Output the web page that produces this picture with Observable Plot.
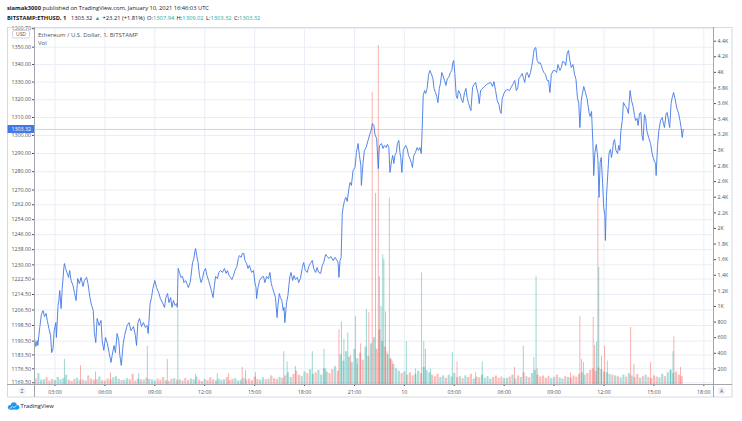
<!DOCTYPE html>
<html><head><meta charset="utf-8">
<script src="https://cdn.jsdelivr.net/npm/d3@7"></script>
<script src="https://cdn.jsdelivr.net/npm/@observablehq/plot@0.6"></script>
<style>
body{margin:0;background:#fff;font-family:"Open Sans",sans-serif;}
#wrap{position:relative;width:742px;height:421px;overflow:hidden;background:#fff;}
.hdr{position:absolute;left:7px;font-size:5.75px;line-height:1;color:#131722;white-space:nowrap;}
.hdr b{font-weight:700;}
.hdr .g{margin-left:2.3px;}
.up{color:#26a69a;}
.leg{position:absolute;left:38px;font-size:6px;line-height:1;color:#4c525e;white-space:nowrap;}
</style></head><body><div id="wrap"></div><script>
// ---------- data ----------
// minutes since 2021-01-09 00:00 UTC, 1-min ETHUSD closes
const priceMinutes = [
106,111,116,118,125,131,137,142,148,152,158,164,168,173,177,183,185,191,194,197,202,206,212,214,218,223,229,233,238,245,250,256,262,268,274,281,286,294,299,306,312,318,322,327,332,339,346,350,356,362,369,375,382,386,393,398,404,410,414,419,426,431,440,447,454,463,470,474,479,485,492,499,506,512,516,523,
528,533,540,546,554,560,569,575,579,586,591,597,602,607,613,619,621,624,629,634,640,645,651,657,661,667,670,676,681,685,687,691,696,701,707,712,717,723,728,734,739,744,750,755,759,766,771,777,784,791,797,802,808,813,818,824,829,836,841,845,851,856,861,865,871,876,881,889,896,901,905,907,912,918,925,932,
937,943,950,955,960,964,970,975,981,984,989,993,998,1003,1006,1009,1015,1020,1027,1031,1037,1042,1047,1054,1059,1065,1072,1077,1083,1090,1095,1101,1108,1113,1120,1125,1131,1138,1144,1149,1156,1162,1168,1175,1183,1190,1197,1201,1204,1208,1212,1216,1219,1224,1229,1234,1240,1244,1249,1255,1262,1267,1273,1278,1283,1285,1291,1296,1302,1309,1315,1320,1325,1330,1334,1340,1346,
1350,1358,1363,1368,1374,1379,1384,1388,1394,1398,1402,1406,1411,1415,1420,1424,1427,1431,1436,1441,1445,1450,1455,1460,1466,1469,1474,1480,1486,1491,1496,1501,1504,1508,1513,1517,1522,1527,1532,1537,1543,1547,1552,1557,1561,1566,1570,1575,1579,1585,1590,1595,1600,1606,1611,1615,1618,1622,1627,1631,1635,1641,1646,1651,1657,1662,1667,1672,1677,1680,1686,1691,1697,1701,1706,1710,1715,1722,1729,1736,1743,1751,
1758,1763,1769,1775,1781,1785,1789,1793,1799,1805,1812,1819,1825,1833,1838,1844,1849,1853,1859,1865,1870,1874,1879,1883,1889,1895,1899,1903,1906,1909,1914,1919,1925,1929,1934,1938,1943,1949,1955,1960,1965,1970,1977,1983,1989,1994,2001,2006,2011,2018,2022,2027,2032,2037,2042,2048,2054,2059,2064,2069,2073,2078,2081,2087,2093,2099,2106,2110,2115,2120,2123,2127,2132,2138,2142,2146,2150,2155,2159,2163,2165,2169,2174,2178,2183,2187,2191,2194,2198,2203,2209,2213,2217,2221,2226,2230,2238,2243,2248,2254,2259,2265,2270,2274,2279,2283,2288,2293,2297,2301,2306,2310,2315,2322,2328,2333,2337,2342,2346,2348,2353,2358,2364,2370,2375,2378,2384,2388,2393,2397,2402,2406,2411,2416,2422,2429,2434,2438,2442,2446];
const priceValues = [
1191.9,1187.8,1190.8,1188.3,1197.5,1204.2,1206.2,1203.1,1204.7,1201.1,1197.0,1193.4,1184.7,1186.8,1195.9,1200.0,1192.4,1208.8,1211.4,1216.6,1207.2,1217.6,1228.6,1230.7,1228.1,1226.0,1223.4,1227.0,1221.8,1219.2,1215.5,1211.4,1222.8,1220.2,1223.4,1218.7,1221.8,1223.4,1220.2,1212.9,1208.8,1206.2,1194.9,1189.8,1202.1,1198.5,1201.1,1190.8,1185.8,1192.4,1189.3,1184.7,1179.7,1183.2,1188.3,1184.7,1194.4,1190.8,1183.2,1178.2,1189.3,1193.4,1198.5,1200.0,1195.9,1198.0,1193.4,1188.3,1200.0,1202.1,1198.0,1200.0,1197.5,1198.5,1194.4,1209.8,
1212.9,1217.6,1221.8,1218.1,1215.5,1212.4,1209.8,1207.8,1212.4,1215.0,1210.3,1212.9,1207.8,1211.4,1208.8,1209.8,1207.8,1228.1,1226.0,1223.4,1223.9,1220.7,1221.8,1219.7,1218.1,1220.7,1223.4,1231.2,1233.3,1237.6,1238.6,1234.9,1231.2,1224.4,1220.7,1222.8,1226.5,1228.1,1224.4,1221.8,1219.2,1216.6,1212.9,1219.2,1223.9,1222.8,1226.0,1227.0,1226.0,1228.1,1225.5,1227.0,1224.4,1223.4,1222.3,1224.4,1227.0,1229.1,1233.3,1234.9,1233.9,1236.0,1236.0,1232.3,1230.7,1228.1,1229.7,1226.0,1227.0,1220.7,1218.1,1212.4,1218.1,1221.8,1223.4,1223.9,
1220.7,1223.9,1222.8,1226.0,1220.2,1218.1,1215.5,1212.9,1202.6,1208.8,1215.0,1212.9,1211.4,1206.2,1207.8,1200.0,1210.3,1214.0,1223.9,1226.0,1221.8,1224.4,1222.3,1223.4,1220.7,1222.8,1228.6,1231.2,1227.0,1226.0,1229.1,1230.7,1232.3,1228.1,1226.0,1228.6,1226.0,1225.5,1229.7,1231.2,1235.5,1234.4,1233.3,1234.4,1232.3,1233.9,1232.3,1231.2,1223.4,1232.3,1233.9,1257.3,1260.5,1264.3,1266.0,1263.8,1270.8,1274.1,1272.5,1280.7,1282.3,1290.5,1295.5,1288.9,1283.4,1272.5,1285.0,1291.7,1293.3,1297.2,1300.5,1302.8,1306.6,1305.5,1300.5,1298.3,1281.7,
1294.4,1295.5,1292.8,1294.4,1293.3,1295.0,1293.3,1279.6,1286.1,1288.9,1284.5,1288.9,1290.5,1295.5,1297.2,1290.5,1287.8,1279.6,1291.7,1293.3,1294.4,1292.8,1288.9,1287.2,1284.5,1282.3,1288.9,1290.5,1293.3,1291.7,1293.3,1290.0,1302.8,1322.4,1325.2,1323.5,1326.4,1333.8,1336.6,1334.9,1332.0,1326.4,1324.1,1321.8,1318.4,1326.4,1329.2,1335.5,1333.8,1330.9,1328.1,1332.0,1332.6,1335.5,1336.6,1341.2,1342.3,1334.9,1322.4,1320.7,1325.2,1323.5,1320.1,1318.4,1324.1,1326.4,1320.7,1317.8,1315.1,1313.9,1326.9,1328.6,1329.8,1326.4,1323.5,1317.8,1325.2,1326.4,1327.5,1328.6,1329.2,1329.8,
1327.5,1330.3,1325.2,1319.6,1317.3,1313.9,1312.3,1320.7,1323.5,1325.2,1325.8,1325.2,1326.9,1329.2,1330.9,1325.2,1326.9,1332.0,1333.2,1334.9,1332.0,1329.8,1334.9,1335.5,1332.6,1335.5,1338.9,1342.3,1346.4,1349.3,1349.8,1342.3,1340.6,1341.2,1339.5,1337.2,1335.5,1334.3,1330.9,1330.9,1324.1,1334.3,1336.6,1336.6,1335.5,1340.0,1336.6,1338.3,1341.8,1341.2,1339.5,1346.4,1348.1,1342.3,1338.3,1340.0,1334.3,1331.5,1321.3,1317.9,1304.4,1319.6,1322.4,1327.5,1324.1,1320.7,1312.8,1310.6,1313.4,1295.5,1277.9,1290.5,1295.0,1287.2,1266.0,1285.0,1287.8,1273.6,1260.5,1256.2,1242.9,1267.0,1279.6,1290.0,1292.2,1287.8,1291.7,1296.1,1297.7,1291.7,1290.0,1294.4,1291.7,1302.8,1308.3,1318.4,1316.2,1315.1,1312.3,1325.2,1319.6,1316.2,1311.1,1308.3,1309.5,1305.5,1312.3,1312.8,1300.0,1297.2,1311.7,1310.0,1302.2,1298.3,1295.5,1290.5,1287.8,1285.6,1284.5,1277.9,1294.4,1302.8,1308.3,1310.0,1306.1,1304.4,1312.3,1312.8,1307.8,1304.4,1317.9,1321.3,1324.1,1320.7,1315.7,1312.3,1308.3,1304.4,1298.9,1303.32];

// volume: one reading per 10-minute slot starting at minute 110
const volSlotStart = 110, volSlotStep = 10;
const volSlotValues = [
70,140,55,60,85,45,65,50,90,60,75,120,55,40,65,80,50,60,45,110,70,55,60,95,50,45,70,60,85,100,65,50,55,75,60,130,45,70,60,55,80,65,
60,45,70,55,90,50,40,65,75,55,60,45,80,50,70,60,95,55,40,65,50,85,60,45,70,55,60,90,50,65,75,45,55,80,60,70,50,95,65,55,85,60,70,110,75,65,90,80,
110,150,90,130,170,120,100,160,140,190,130,150,180,120,200,160,140,190,230,170,
380,300,420,350,280,450,330,400,310,480,360,520,600,450,700,550,480,380,330,260,
200,170,140,160,120,150,110,130,170,140,220,180,150,120,100,130,90,110,80,120,95,140,85,100,75,110,90,130,70,95,85,120,80,100,70,90,110,80,95,75,
80,95,120,70,110,90,150,100,85,140,180,120,95,110,80,100,75,90,120,85,70,100,90,80,110,95,130,150,120,140,180,200,170,210,190,160,150,130,120,110,
100,85,120,95,140,110,90,130,80,100,120,90,75,110,95,85,130,100,150,180,140,160,120,100];
// individual tall volume bars: minute, volume, direction (1 up / 0 down)
const spikeMinutes = [214,272,326,380,482,513,585,623,687,765,806,855,867,903,1005,1017,1047,1108,1150,1156,1204,1213,1222,1236,1246,1264,1270,1282,1303,1312,1324,1336,1346,1350,1356,1362,1366,1372,1378,1386,1390,1396,1447,1480,1502,1510,1516,1534,1613,1630,1697,1721,1837,1869,1907,1915,1919,2039,2073,2079,2086,2121,2126,2133,2138,2141,2151,2162,2172,2256,2268,2328,2400,2409,2412,2436];
const spikeValues  = [320,240,160,150,140,490,320,960,130,140,140,220,180,150,420,290,230,420,450,200,700,800,575,660,370,870,250,520,960,920,3745,2450,4345,1380,1000,1660,1600,930,420,2390,320,300,550,200,1430,550,450,200,410,290,150,290,220,490,345,1380,200,150,870,320,280,860,500,540,2400,1500,360,490,300,730,260,280,190,420,610,220];
const spikeUp      = [1,0,1,0,1,1,0,1,1,1,0,0,0,1,1,1,1,1,1,0,0,1,1,1,0,1,0,0,1,0,0,1,0,1,1,1,1,0,0,0,0,0,1,0,1,1,1,1,1,0,1,1,0,1,1,1,0,0,0,0,0,0,0,1,0,1,1,0,1,0,0,0,1,1,0,0];

const priceTicks = [1169.5,1176.5,1183.5,1190.5,1198.5,1206.5,1214.5,1222.5,1230,1238,1246,1254,1262,1270,1280,1290,1300,1310,1320,1330,1340,1350,1360.7];
const volTicks = [200,400,600,800,1000,1200,1400,1600,1800,2000,2200,2400,2600,2800,3000,3200,3400,3600,3800,4000,4200,4400];
const timeTickHours = [3,6,9,12,15,18,21,24,27,30,33,36,39,42];
const timeTickLabels = ["03:00","06:00","09:00","12:00","15:00","18:00","21:00","10","03:00","06:00","09:00","12:00","15:00","18:00"];

const symbol = "BITSTAMP:ETHUSD, 1";
const lastPrice = 1303.32, change = 23.21, changePct = 1.81;
const ohlc = {O:1307.94, H:1309.02, L:1303.32, C:1303.32};
const author = "siamak3000", published = "January 10, 2021 16:46:03 UTC";

// ---------- build ----------
const t0 = Date.UTC(2021, 0, 9);
const toDate = m => new Date(t0 + m * 60000);
const priceData = priceMinutes.map((m, i) => ({date: toDate(m), price: priceValues[i]}));
const pBis = d3.bisector(d => d).left;
function priceAt(m) {
  let i = pBis(priceMinutes, m);
  if (i <= 0) return priceValues[0];
  if (i >= priceMinutes.length) return priceValues[priceValues.length - 1];
  const a = priceMinutes[i-1], b = priceMinutes[i];
  return priceValues[i-1] + (priceValues[i] - priceValues[i-1]) * (m - a) / (b - a);
}
const GREEN = "#26a69a", RED = "#ef5350";
const volBase = volSlotValues.map((v, i) => {
  const m = volSlotStart + i * volSlotStep;
  return {date: toDate(m), v, color: priceAt(m) >= priceAt(m - volSlotStep) ? GREEN : RED};
});
const volSpikes = spikeMinutes.map((m, i) => ({date: toDate(m), v: spikeValues[i], color: spikeUp[i] ? GREEN : RED}));

const W = 742, H = 421;
const common = {width: W, height: H, marginLeft: 34, marginRight: 29, marginTop: 27, marginBottom: 37,
  style: "position:absolute;left:0;top:0;background:transparent;overflow:visible;font-family:'Open Sans',sans-serif;color:#4c525e;"};
const xOpt = {type: "utc", domain: [toDate(106.06), toDate(2554.9)], axis: null};
const yPrice = {type: "log", domain: [1168.63, 1361.42], axis: null};
const tickDates = timeTickHours.map(h => toDate(h * 60));
const labelByTime = new Map(tickDates.map((d, i) => [+d, timeTickLabels[i]]));
const GRID = "#e9eef6";

const basePlot = Plot.plot({...common, x: xOpt, y: yPrice, marks: [
  Plot.ruleY(priceTicks, {stroke: GRID}),
  Plot.ruleX(tickDates, {stroke: GRID}),
  Plot.axisY(priceTicks, {anchor: "left", tickSize: 2, tickPadding: 1.5, fontSize: 5.3, label: null,
    tickFormat: d => d.toFixed(2)}),
  Plot.axisX(tickDates, {anchor: "bottom", tickSize: 2, tickPadding: 3.5, fontSize: 5.3, label: null,
    tickFormat: d => labelByTime.get(+d)})
]});

const volPlot = Plot.plot({...common, x: xOpt, y: {domain: [0, 4575], axis: null}, color: {type: "identity"}, marks: [
  Plot.ruleX(volBase, {x: "date", y1: 0, y2: "v", stroke: "color", strokeWidth: 2.2, strokeOpacity: 0.38}),
  Plot.ruleX(volSpikes, {x: "date", y1: 0, y2: "v", stroke: "color", strokeWidth: 0.9, strokeOpacity: 0.5}),
  Plot.axisY(volTicks, {anchor: "right", tickSize: 2, tickPadding: 2, fontSize: 5.3, label: null,
    tickFormat: v => v >= 1000 ? (v / 1000) + "K" : String(v)})
]});

const LINE = "#4278e6";
const pricePlot = Plot.plot({...common, x: xOpt, y: yPrice, marks: [
  Plot.ruleY([lastPrice], {stroke: LINE, strokeOpacity: 0.3}),
  Plot.line(priceData, {x: "date", y: "price", stroke: LINE, strokeWidth: 0.9})
]});

const wrap = document.getElementById("wrap");
wrap.append(basePlot, volPlot, pricePlot);

const yy = pricePlot.scale("y").apply(lastPrice);
const deco = `
<svg width="742" height="421" style="position:absolute;left:0;top:0;overflow:visible" font-family="'Open Sans',sans-serif">
  <rect x="7.5" y="27.5" width="724.5" height="369.5" fill="none" stroke="#d6d9e0"/>
  <line x1="34.5" y1="27" x2="34.5" y2="397" stroke="#a3a6af"/>
  <line x1="713.5" y1="27" x2="713.5" y2="397" stroke="#a3a6af"/>
  <line x1="7" y1="384.5" x2="732" y2="384.5" stroke="#a3a6af"/>
  <rect x="12.5" y="30.5" width="17" height="7.5" rx="1.5" fill="#fff" stroke="#d1d4dc"/>
  <text x="21" y="36.1" font-size="5" text-anchor="middle" fill="#4c525e">USD</text>
  <rect x="7.5" y="${yy - 4}" width="26.5" height="8" fill="${LINE}"/>
  <text x="31" y="${yy + 1.9}" font-size="5.3" text-anchor="end" fill="#fff">${lastPrice.toFixed(2)}</text>
  <circle cx="22" cy="391" r="4" fill="#f0f3fa"/>
  <text x="22" y="392.8" font-size="5" text-anchor="middle" fill="#4c525e">Z</text>
  <circle cx="721.5" cy="391" r="4" fill="#f0f3fa"/>
  <text x="721.5" y="392.8" font-size="5" text-anchor="middle" fill="#4c525e">A</text>
  <g fill="#2196f3">
    <circle cx="10.3" cy="407.3" r="2.4"/><circle cx="13.8" cy="405.3" r="3"/><circle cx="17.2" cy="407.2" r="2.2"/>
    <rect x="10.3" y="406.5" width="7" height="3.1"/>
  </g>
  <polyline points="10,408.5 12.5,406.5 14,407.6 16.5,405.4" fill="none" stroke="#fff" stroke-width="0.7"/>
  <text x="20.5" y="408.3" font-size="5.8" fill="#131722">TradingView</text>
</svg>`;
wrap.insertAdjacentHTML("beforeend", deco);

const fmt = v => v.toFixed(2);
wrap.insertAdjacentHTML("beforeend", `
<div class="hdr" style="top:5.7px"><b>${author}</b> published on TradingView.com, ${published}</div>
<div class="hdr" style="top:16.4px"><b>${symbol}</b><span class="g"></span><span class="g">${fmt(lastPrice)}</span><span class="g up">▲</span><span class="g">+${fmt(change)} (+${fmt(changePct)}%)</span><span class="g">O:<span class="up">${fmt(ohlc.O)}</span></span><span class="g">H:<span class="up">${fmt(ohlc.H)}</span></span><span class="g">L:<span class="up">${fmt(ohlc.L)}</span></span><span class="g">C:<span class="up">${fmt(ohlc.C)}</span></span></div>
<div class="leg" style="top:31.8px">Ethereum / U.S. Dollar, 1, BITSTAMP</div>
<div class="leg" style="top:40.3px">Vol</div>`);
</script></body></html>
